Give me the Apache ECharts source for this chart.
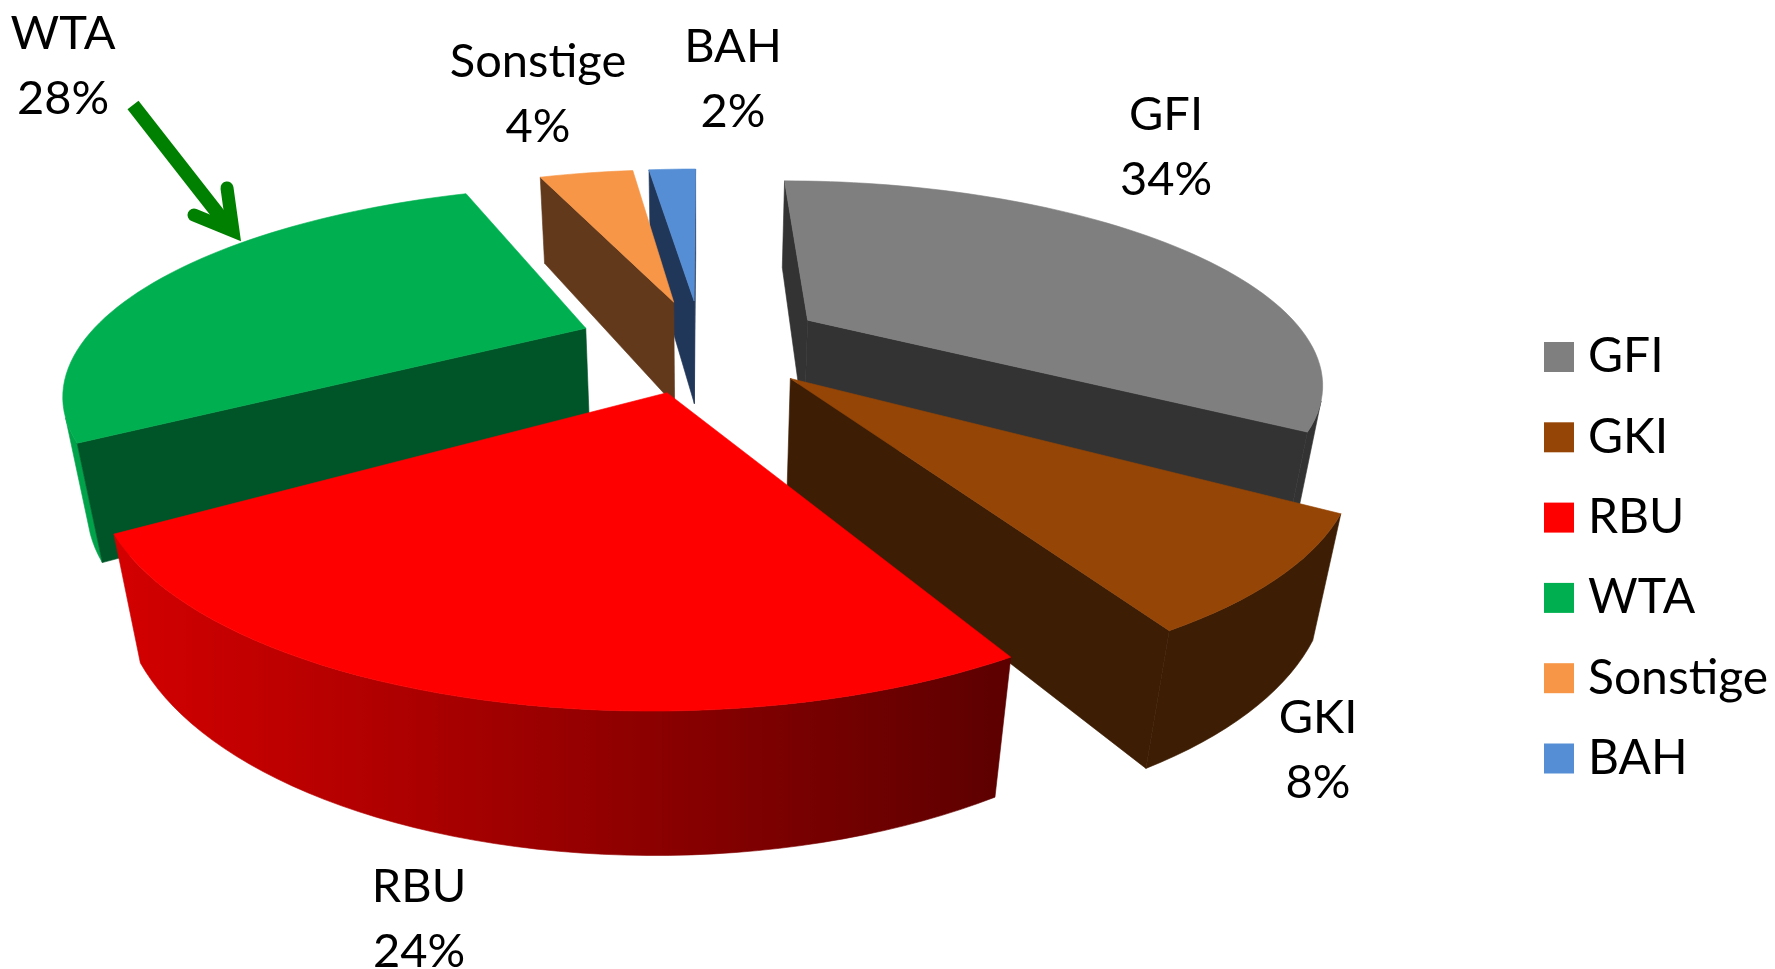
<!DOCTYPE html>
<html>
<head>
<meta charset="UTF-8">
<title>Anteile</title>
<script src="https://cdn.jsdelivr.net/npm/echarts@6/dist/echarts.min.js"></script>
<style>
html, body{margin:0;padding:0;width:100%;height:100%;background:#fff;overflow:hidden;}
#chart{width:1775px;height:969px;}
</style>
</head>
<body>
<div id="chart"></div>
<script>
// data
var categories = ['GFI', 'GKI', 'RBU', 'WTA', 'Sonstige', 'BAH'];
var shares = [34, 8, 24, 28, 4, 2];

// slice styles, same order as categories
var topColors = ['#7f7f7f', '#954505', '#ff0000', '#00b050', '#f79646', '#558ed5'];
var sideColors = ['#333333', '#3d1d03', '#5c0000', '#005528', '#63391b', '#21375a'];
var rimColors = [['#333333', '#333333'], ['#3d1d03', '#3d1d03'], ['#d40000', '#5c0000'], ['#00a34a', '#00a34a'], ['#63391b', '#63391b'], ['#21375a', '#21375a']];
var explode = [0.178, 0.175, 0.18, 0.175, 0.165, 0.165];
var paintOrder = [3, 5, 6, 3, 2, 1];
// label block centre in px
var labelAt = [[1166, 145], [1318, 748], [419, 917], [63, 64], [538, 92], [733, 77]];

// camera of the 3d pie
var cam = {F: 1446, D: 2.6, tilt: 25.5 * Math.PI / 180, vx: 701, vy: 367, y0: -0.31, h: 0.19, R: 0.71, xScale: 1.095};
var cosT = Math.cos(cam.tilt), sinT = Math.sin(cam.tilt);

function project(x, y, z){
	var yy = y + cam.y0;
	var w = cam.D + yy * cosT - z * sinT;
	return [cam.vx + cam.xScale * cam.F * x / w, cam.vy - cam.F * (yy * sinT + z * cosT) / w];
}
// camera position in pie coordinates, for back face culling
function facesCamera(nx, ny, px, py){
	var cx = 0, cy = -cam.D * cosT - cam.y0;
	return nx * (cx - px) + ny * (cy - py) > 0;
}

var total = shares.reduce(function(a, b){return a + b;}, 0);
var starts = [];
shares.reduce(function(acc, v, i){starts[i] = acc; return acc + v;}, 0);

function polygon(points, fill){
	return {type: 'polygon', shape: {points: points}, style: {fill: fill, stroke: fill, lineWidth: 0.6}};
}

function renderSlice(idx){
	var R = cam.R;
	var a = starts[idx] / total * Math.PI * 2;
	var b = (starts[idx] + shares[idx]) / total * Math.PI * 2;
	var mid = (a + b) / 2;
	var ox = Math.sin(mid) * explode[idx], oy = Math.cos(mid) * explode[idx];
	var n = Math.max(4, Math.round((b - a) / 0.03));
	var kids = [];
	var topArc = [], rimTop = [], rimBottom = [];
	for(var i = 0; i <= n; i++){
		var t = a + (b - a) * i / n;
		var px = ox + R * Math.sin(t), py = oy + R * Math.cos(t);
		topArc.push(project(px, py, cam.h));
		if(facesCamera(Math.sin(t), Math.cos(t), px, py)){
			rimTop.push(project(px, py, cam.h));
			rimBottom.unshift(project(px, py, 0));
		}
	}
	var apexTop = project(ox, oy, cam.h), apexBottom = project(ox, oy, 0);
	var endA = [ox + R * Math.sin(a), oy + R * Math.cos(a)], endB = [ox + R * Math.sin(b), oy + R * Math.cos(b)];
	// rim
	if(rimTop.length > 1){
		kids.push(polygon(rimTop.concat(rimBottom), new echarts.graphic.LinearGradient(0, 0, 1, 0, [
			{offset: 0, color: rimColors[idx][0]},
			{offset: 1, color: rimColors[idx][1]}
		])));
	}
	// cut faces
	if(facesCamera(-Math.cos(a), Math.sin(a), ox, oy)){
		kids.push(polygon([apexTop, project(endA[0], endA[1], cam.h), project(endA[0], endA[1], 0), apexBottom], sideColors[idx]));
	}
	if(facesCamera(Math.cos(b), -Math.sin(b), ox, oy)){
		kids.push(polygon([apexTop, project(endB[0], endB[1], cam.h), project(endB[0], endB[1], 0), apexBottom], sideColors[idx]));
	}
	// top
	kids.push(polygon([apexTop].concat(topArc), topColors[idx]));
	// label
	kids.push({
		type: 'text',
		style: {
			text: categories[idx] + '\n' + shares[idx] + '%',
			x: labelAt[idx][0], y: labelAt[idx][1] + 2,
			align: 'center', verticalAlign: 'middle',
			lineHeight: 65, fontSize: 47, fontFamily: 'Lato', fill: '#000'
		}
	});
	return {type: 'group', children: kids};
}

var chart = echarts.init(document.getElementById('chart'));
var series = categories.map(function(name, i){
	return {
		name: name,
		type: 'custom',
		coordinateSystem: 'none',
		z: paintOrder[i],
		itemStyle: {color: topColors[i]},
		data: [[shares[i]]],
		silent: true,
		renderItem: function(){return renderSlice(i);}
	};
});

chart.setOption({
	animation: false,
	backgroundColor: '#fff',
	legend: {
		orient: 'vertical',
		left: 1539,
		top: 328,
		data: categories,
		icon: 'rect',
		itemWidth: 30,
		itemHeight: 30,
		itemGap: 32.3,
		textStyle: {fontFamily: 'Lato', fontSize: 48, color: '#000', lineHeight: 30, padding: [0, 0, 0, 9]}
	},
	series: series,
	graphic: [
		// arrow pointing at WTA
		{type: 'line', z: 20, shape: {x1: 133, y1: 105, x2: 226, y2: 224}, style: {stroke: '#008000', lineWidth: 14}},
		{type: 'polyline', z: 20, shape: {points: [[227, 188], [233, 231], [194, 215]]}, style: {stroke: '#008000', lineWidth: 13, lineCap: 'round', lineJoin: 'miter', fill: null}}
	]
});
</script>
</body>
</html>
